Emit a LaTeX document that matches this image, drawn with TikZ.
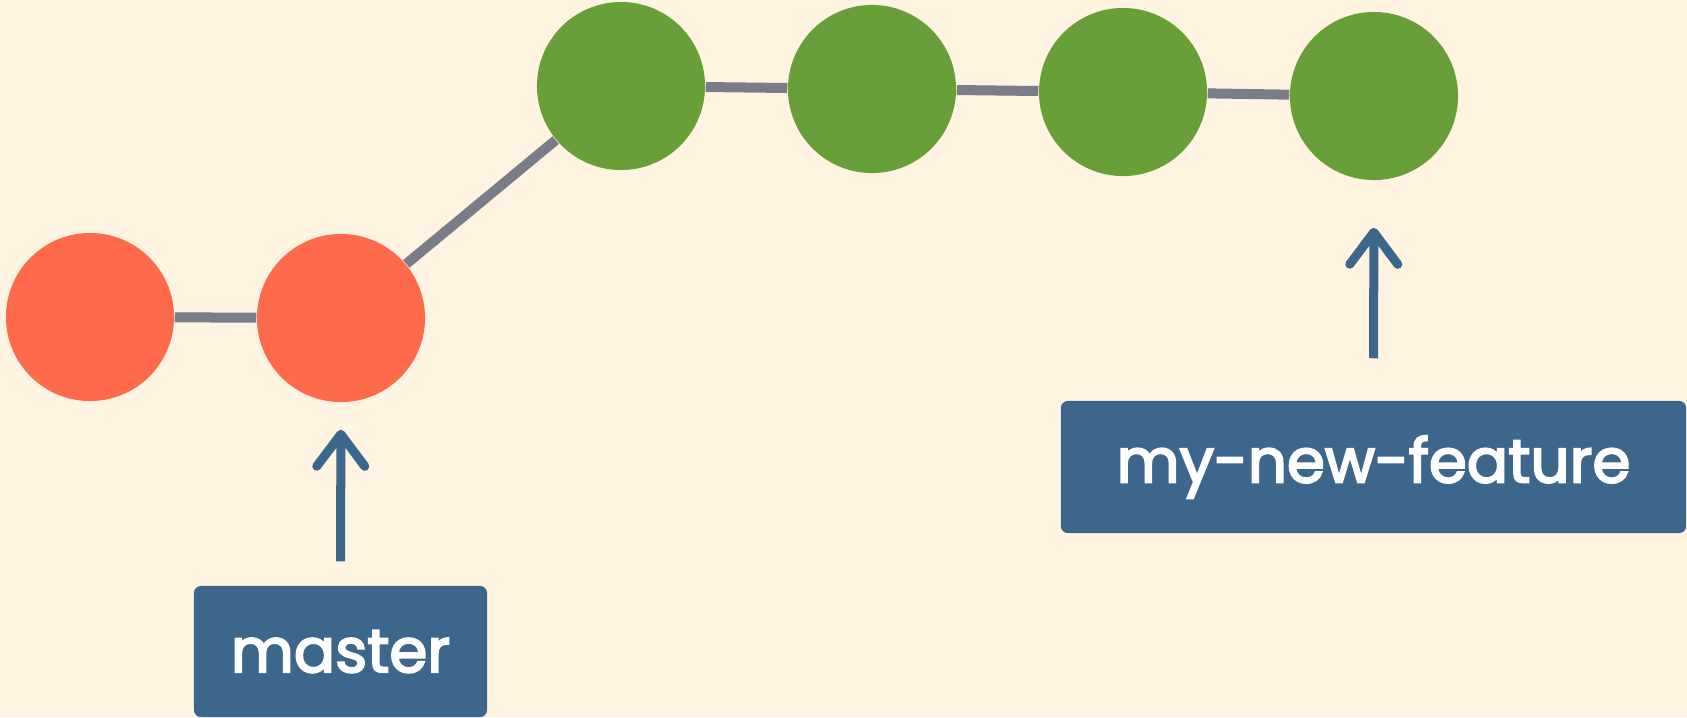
\documentclass[tikz,border=0pt]{standalone}
\usepackage{fontspec}
\setmainfont{Poppins}
\newfontfamily\labelfont{Poppins}[FakeBold=3.2]
\usepackage{tikz}
\usetikzlibrary{arrows.meta, positioning}
\definecolor{paper}{HTML}{FFF4E2}
\definecolor{oldcommit}{HTML}{FF6A4A}
\definecolor{newcommit}{HTML}{689F38}
\definecolor{history}{HTML}{7A7D88}
\definecolor{branchbox}{HTML}{3C668B}
\tikzset{
  commit/.style={
    circle, fill=#1, inner sep=0pt, minimum size=1.68cm
  },
  commit/.default=newcommit,
  branch/.style={
    rounded corners=0.07cm, fill=branchbox, text=white,
    font=\labelfont\fontsize{17.4}{20}\selectfont, inner sep=0pt
  },
  link/.style={line width=0.1cm, color=history},
  pointer/.style={
    -{Straight Barb[length=0.32cm, width=0.48cm, round]},
    line width=0.09cm, color=branchbox
  }
}

\begin{document}
\begin{tikzpicture}[x=0.01cm, y=-0.01cm]
    \fill[paper] (0,0) rectangle (1687,717);
    \useasboundingbox (0,0) rectangle (1687,717);

    % commits on master
    \node[commit=oldcommit] (m1) at (90,317) {};
    \node[commit=oldcommit] (m2) at (341,318) {};

    % commits on the feature branch
    \node[commit] (f1) at (621,86) {};
    \node[commit] (f2) at (872,89) {};
    \node[commit] (f3) at (1123,92) {};
    \node[commit] (f4) at (1374,96) {};

    \draw[link] (m1) -- (m2);
    \draw[link] (m2) -- (f1);
    \draw[link] (f1) -- (f2);
    \draw[link] (f2) -- (f3);
    \draw[link] (f3) -- (f4);

    % branch labels
    \node[branch, minimum width=2.93cm, minimum height=1.31cm] (master) at (340.5,651.5) {master};
    \node[branch, minimum width=6.25cm, minimum height=1.32cm] (feature) at (1373.5,467) {my-new-feature};

    \draw[pointer, shorten <=0.24cm, shorten >=0.27cm] (master) -- (m2);
    \draw[pointer, shorten <=0.42cm, shorten >=0.47cm] (feature) -- (f4);
  \end{tikzpicture}
\end{document}
